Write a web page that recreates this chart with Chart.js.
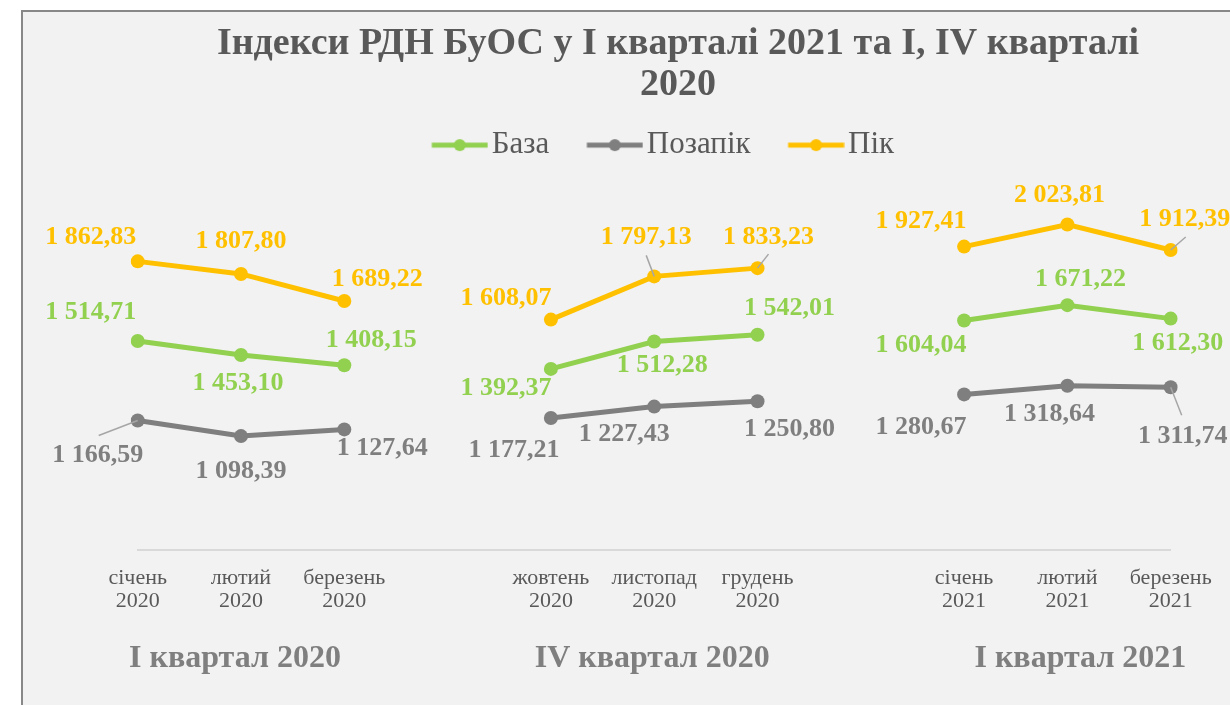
<!DOCTYPE html>
<html lang="uk">
<head>
<meta charset="utf-8">
<title>Індекси РДН БуОС</title>
<script src="https://cdn.jsdelivr.net/npm/chart.js@4.4.1/dist/chart.umd.min.js"></script>
<style>
  html, body { margin: 0; padding: 0; background: #ffffff; overflow: hidden; width: 1230px; height: 705px; }
  #frame {
    position: absolute; left: 21px; top: 10px; width: 1300px; height: 760px;
    background: #f2f2f2; border-left: 2px solid #888888; border-top: 2px solid #888888;
  }
  #chart { position: absolute; left: 23px; top: 12px; }
</style>
</head>
<body>
<div id="frame"></div>
<canvas id="chart" width="1310" height="694"></canvas>
<script>
// дані з діаграми (грн/МВт·год)
const months = ['січень', 'лютий', 'березень', '', 'жовтень', 'листопад', 'грудень', '', 'січень', 'лютий', 'березень'];
const years = ['2020', '2020', '2020', '', '2020', '2020', '2020', '', '2021', '2021', '2021'];
const groupNames = ['І квартал 2020', 'IV квартал 2020', 'І квартал 2021'];
const groupMiddle = [1, 5, 9];

const seriesNames = ['База', 'Позапік', 'Пік'];
const baza = [1514.71, 1453.10, 1408.15, null, 1392.37, 1512.28, 1542.01, null, 1604.04, 1671.22, 1612.30];
const pozapik = [1166.59, 1098.39, 1127.64, null, 1177.21, 1227.43, 1250.80, null, 1280.67, 1318.64, 1311.74];
const pik = [1862.83, 1807.80, 1689.22, null, 1608.07, 1797.13, 1833.23, null, 1927.41, 2023.81, 1912.39];

const colors = ['#92d050', '#7f7f7f', '#ffc000'];
const FONT = "'Liberation Serif', 'Times New Roman', serif";

// зсув підписів від точки (px), як у вихідному файлі Excel
const labelShift = [
    [[-47, -29], [-3, 28], [27, -25], null, [-45, 19], [8, 24], [32, -26], null, [-43, 25], [13, -26], [7, 25]],
    [[-40, 35], [0, 35], [38, 19], null, [-37, 32], [-30, 28], [32, 28], null, [-43, 33], [-18, 29], [12, 49]],
    [[-47, -24], [0, -33], [33, -22], null, [-45, -21], [-8, -39], [11, -31], null, [-43, -25], [-8, -29], [14, -31]]
];
// виносні лінії до підписів
const leaders = [
    [],
    [[0, -39, 15], [10, 11, 28]],
    [[5, -8, -21], [6, 11, -14], [10, 15, -13]]
];
// зсув підписів кварталів відносно середнього місяця
const groupShift = [-6, -2, 13];

function fmt(v) {
    const parts = v.toFixed(2).split('.');
    return parts[0].replace(/\B(?=(\d{3})+(?!\d))/g, ' ') + ',' + parts[1];
}

function legendMarker(color) {
    const c = document.createElement('canvas');
    c.width = 86;
    c.height = 16;
    const g = c.getContext('2d');
    g.strokeStyle = color;
    g.lineWidth = 5;
    g.beginPath();
    g.moveTo(29.5, 8);
    g.lineTo(85.5, 8);
    g.stroke();
    g.fillStyle = color;
    g.beginPath();
    g.arc(57.5, 8, 6, 0, Math.PI * 2);
    g.fill();
    return c;
}
const markers = colors.map(legendMarker);

const pointLabels = {
    id: 'pointLabels',
    afterDatasetsDraw(chart) {
        const ctx = chart.ctx;
        ctx.save();
        chart.data.datasets.forEach((ds, di) => {
            const meta = chart.getDatasetMeta(di);
            ctx.strokeStyle = '#a6a6a6';
            ctx.lineWidth = 1.5;
            leaders[di].forEach(([i, dx, dy]) => {
                const pt = meta.data[i];
                ctx.beginPath();
                ctx.moveTo(pt.x, pt.y);
                ctx.lineTo(pt.x + dx, pt.y + dy);
                ctx.stroke();
            });
            ctx.font = "bold 26px " + FONT;
            ctx.fillStyle = colors[di];
            ctx.textAlign = 'center';
            ctx.textBaseline = 'middle';
            meta.data.forEach((pt, i) => {
                const v = ds.data[i];
                if (v === null) return;
                const s = labelShift[di][i];
                ctx.fillText(fmt(v), pt.x + s[0], pt.y + s[1]);
            });
        });
        ctx.restore();
    }
};

const groupLabels = {
    id: 'groupLabels',
    afterDraw(chart) {
        const ctx = chart.ctx;
        const x = chart.scales.x;
        ctx.save();
        ctx.font = "bold 32px " + FONT;
        ctx.fillStyle = '#7f7f7f';
        ctx.textAlign = 'center';
        ctx.textBaseline = 'middle';
        groupNames.forEach((name, k) => {
            ctx.fillText(name, x.getPixelForValue(groupMiddle[k]) + groupShift[k], 646.5);
        });
        ctx.restore();
    }
};

const labels = months.map((m, i) => m ? [m, years[i]] : '');

function lineSet(label, data, color) {
    return {
        label: label,
        data: data,
        borderColor: color,
        backgroundColor: color,
        borderWidth: 5,
        pointRadius: 7,
        pointBorderWidth: 0,
        pointBackgroundColor: color,
        spanGaps: false,
        tension: 0
    };
}

new Chart(document.getElementById('chart'), {
    type: 'line',
    data: {
        labels: labels,
        datasets: [
            lineSet(seriesNames[0], baza, colors[0]),
            lineSet(seriesNames[1], pozapik, colors[1]),
            lineSet(seriesNames[2], pik, colors[2])
        ]
    },
    options: {
        responsive: false,
        animation: false,
        events: [],
        layout: { padding: 0 },
        plugins: {
            title: {
                display: true,
                text: ['Індекси РДН БуОС у І кварталі 2021 та І, IV кварталі', '2020'],
                color: '#595959',
                font: { family: FONT, size: 38, weight: 'bold', lineHeight: 1.08 },
                padding: { top: 11.5, bottom: 4 }
            },
            legend: {
                display: true,
                position: 'top',
                fullSize: false,
                labels: {
                    usePointStyle: true,
                    pointStyleWidth: 62,
                    padding: 20,
                    color: '#595959',
                    font: { family: FONT, size: 31 },
                    generateLabels(chart) {
                        return chart.data.datasets.map((ds, i) => ({
                            text: ds.label,
                            fontColor: '#595959',
                            fillStyle: colors[i],
                            strokeStyle: colors[i],
                            lineWidth: 0,
                            pointStyle: markers[i],
                            hidden: false,
                            datasetIndex: i
                        }));
                    }
                }
            },
            tooltip: { enabled: false }
        },
        scales: {
            x: {
                type: 'category',
                offset: false,
                grid: { display: true, color: 'rgba(0,0,0,0)', drawTicks: false },
                border: { display: true, color: '#d9d9d9', width: 2 },
                ticks: {
                    autoSkip: false,
                    maxRotation: 0,
                    padding: 16.5,
                    color: '#595959',
                    font: { family: FONT, size: 22, lineHeight: 1.06 }
                },
                afterFit(scale) { scale.height = 156; }
            },
            y: {
                position: 'left',
                min: 600,
                max: 2260,
                grid: { display: false },
                border: { display: false },
                ticks: { display: false },
                afterFit(scale) { scale.width = 114.7; }
            },
            y2: {
                type: 'linear',
                position: 'right',
                grid: { display: false },
                border: { display: false },
                ticks: { display: false },
                afterFit(scale) { scale.width = 162.3; }
            }
        }
    },
    plugins: [pointLabels, groupLabels]
});
</script>
</body>
</html>
